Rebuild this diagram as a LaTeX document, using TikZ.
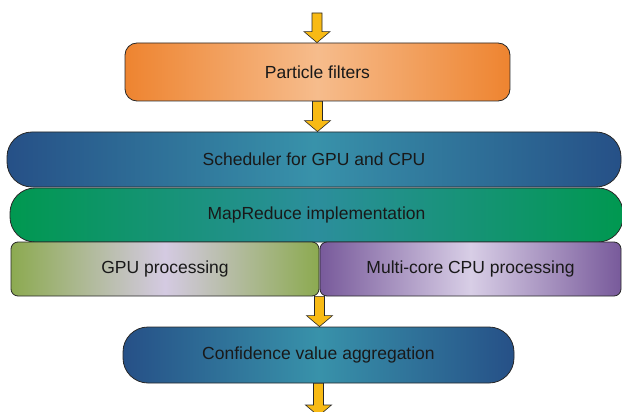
\documentclass[tikz,border=0pt]{standalone}
\usepackage{fontspec}
\setmainfont{Liberation Sans}
\usetikzlibrary{calc}

\definecolor{orEdge}{RGB}{238,132,48}
\definecolor{orMid}{RGB}{246,188,140}
\definecolor{blEdge}{RGB}{38,80,135}
\definecolor{blMid}{RGB}{56,146,170}
\definecolor{grEdge}{RGB}{0,152,80}
\definecolor{grMid}{RGB}{44,142,156}
\definecolor{olEdge}{RGB}{140,170,80}
\definecolor{olMid}{RGB}{212,202,226}
\definecolor{puEdge}{RGB}{120,90,155}
\definecolor{puMid}{RGB}{216,206,230}
\definecolor{arrowFill}{RGB}{248,186,20}
\definecolor{lineDark}{RGB}{40,40,40}
\definecolor{txt}{RGB}{25,25,25}

\tikzset{
  box/.style={draw=lineDark, line width=0.8pt, text=txt,
    font=\fontsize{17.5}{20}\selectfont, inner sep=0pt},
  orangebox/.style={box, left color=orEdge, right color=orEdge, middle color=orMid},
  bluebox/.style={box, left color=blEdge, right color=blEdge, middle color=blMid},
  greenbox/.style={box, left color=grEdge, right color=grEdge, middle color=grMid},
  olivebox/.style={box, left color=olEdge, right color=olEdge, middle color=olMid},
  purplebox/.style={box, left color=puEdge, right color=puEdge, middle color=puMid},
  flowarrow/.style={fill=arrowFill, draw=lineDark, line width=0.6pt, line join=miter}
}

% block arrow from the point #1 down to the point #2
\newcommand\blockarrow[2]{%
  \filldraw[flowarrow] let \p1=(#1), \p2=(#2) in
    (\x1-5pt,\y1) -- (\x1+5pt,\y1) -- (\x1+5pt,\y2+11pt) -- (\x1+13pt,\y2+11pt)
    -- (\x1,\y2) -- (\x1-13pt,\y2+11pt) -- (\x1-5pt,\y2+11pt) -- cycle;}

\begin{document}
\begin{tikzpicture}[x=1pt, y=-1pt]
  \useasboundingbox (0,0) rectangle (622,412);

  \node[orangebox, rounded corners=12pt, minimum width=385pt, minimum height=58pt]
    (pf) at (317.5,72) {Particle filters};
  \node[bluebox, rounded corners=25pt, minimum width=614pt, minimum height=55pt]
    (sch) at (314,159.5) {Scheduler for GPU and CPU};
  \node[greenbox, rounded corners=25pt, minimum width=613pt, minimum height=54pt]
    (mr) at (316.5,215) {MapReduce implementation};
  \node[olivebox, rounded corners=7pt, minimum width=308pt, minimum height=54pt]
    (gpu) at (165,269) {GPU processing};
  \node[purplebox, rounded corners=7pt, minimum width=301pt, minimum height=54pt]
    (cpu) at (470.5,269) {Multi-core CPU processing};
  \node[bluebox, rounded corners=25pt, minimum width=391pt, minimum height=56pt]
    (conf) at (318.5,355) {Confidence value aggregation};

  \coordinate (in) at (317,13);
  \coordinate (out) at (318,416);
  \coordinate (split) at ($(gpu.south east)!0.5!(cpu.south west)$);

  \blockarrow{in}{pf.north}
  \blockarrow{pf.south}{pf.south |- sch.north}
  \blockarrow{split}{split |- conf.north}
  \blockarrow{conf.south}{out}
\end{tikzpicture}
\end{document}
